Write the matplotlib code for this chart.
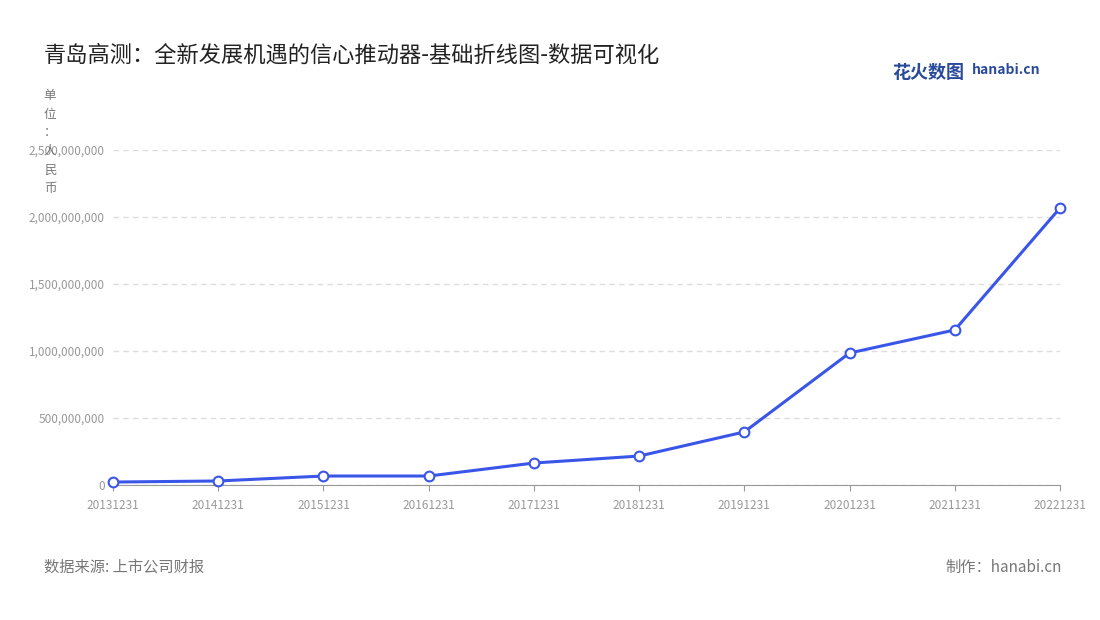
import matplotlib
matplotlib.use('Agg')
import matplotlib.pyplot as plt
from matplotlib.ticker import FuncFormatter

plt.rcParams['font.family'] = ['Noto Sans CJK SC', 'DejaVu Sans']

dates = ['20131231','20141231','20151231','20161231','20171231','20181231','20191231','20201231','20211231','20221231']
values = [22e6, 30e6, 67e6, 67e6, 164e6, 216e6, 396e6, 985e6, 1157e6, 2067e6]
yticks = [0, 500e6, 1000e6, 1500e6, 2000e6, 2500e6]

fig = plt.figure(figsize=(11, 6.2), dpi=100)
ax = fig.add_axes([113/1100, 1-485/620, (1060-113)/1100, (485-150)/620])
x = list(range(len(dates)))
ax.plot(x, values, color='#3a56e8', lw=2.2, marker='o', ms=7,
        markerfacecolor='white', markeredgecolor='#3a56e8', markeredgewidth=1.5, zorder=3, clip_on=False)
ax.set_xlim(0, len(dates)-1)
ax.set_ylim(0, 2500e6)
ax.set_yticks(yticks)
ax.yaxis.set_major_formatter(FuncFormatter(lambda v, p: f'{int(v):,}'))
ax.set_xticks(x)
ax.set_xticklabels(dates)
ax.tick_params(axis='both', labelsize=8.5, colors='#999999', length=0, pad=6)
ax.tick_params(axis='x', length=4, color='#999999')
ax.grid(axis='y', color='#dddddd', ls=(0, (4, 3)), lw=1)
for s in ['top', 'right', 'left']:
    ax.spines[s].set_visible(False)
ax.spines['bottom'].set_color('#999999')

fig.text(44/1100, 1-55/620, '青岛高测：全新发展机遇的信心推动器-基础折线图-数据可视化', fontsize=16, color='#222222', va='center')
for i, ch in enumerate('单位：人民币'):
    fig.text(50/1100, 1-(96+i*18.5)/620, ch, fontsize=9, color='#777777', ha='center', va='center')
fig.text(44/1100, 1-567/620, '数据来源: 上市公司财报', fontsize=11, color='#777777', va='center')
fig.text(1062/1100, 1-567/620, '制作：hanabi.cn', fontsize=11, color='#777777', va='center', ha='right')
fig.text(892/1100, 1-72/620, '花火数图', fontsize=13, color='#2a4a9a', weight='bold', va='center')
fig.text(972/1100, 1-70/620, 'hanabi.cn', fontsize=10, color='#2a4a9a', weight='bold', va='center')
fig.savefig('out.png', dpi=100)
